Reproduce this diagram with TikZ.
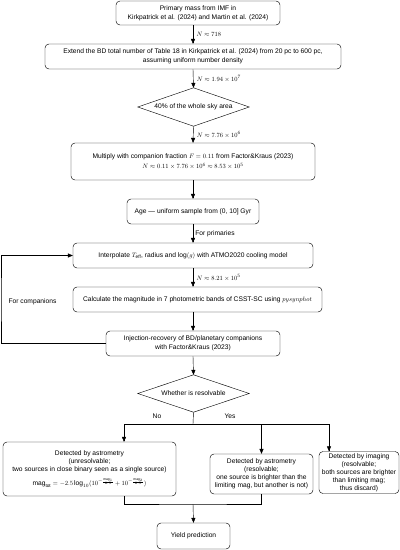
\documentclass[tikz,border=0pt]{standalone}
\usepackage{fontspec}
\setmainfont{Liberation Sans}
\usepackage{amsmath}
\usetikzlibrary{arrows}

\tikzset{
  box/.style={draw, rounded corners=0.2cm, align=center, inner sep=1pt, font=\fontsize{9.5}{13}\selectfont},
  tbox/.style={box, font=\fontsize{9.5}{11.4}\selectfont},
  diam/.style={inner sep=0pt, font=\fontsize{9.5}{12}\selectfont},
  arr/.style={-triangle 45},
  lab/.style={right, inner sep=3pt, font=\fontsize{9.5}{12}\selectfont},
  nlab/.style={lab, inner sep=5pt}
}

\begin{document}
\begin{tikzpicture}[x=0.05cm,y=-0.05cm, line width=0.6pt]
\useasboundingbox (0,0) rectangle (400,550);

\node[box, minimum width=8.2cm, minimum height=1.2cm] (prim) at (198,13) {Primary mass from IMF in\\Kirkpatrick et al. (2024) and Martin et al. (2024)};
\node[box, minimum width=14.8cm, minimum height=1.25cm] (ext) at (193,56.5) {Extend the BD total number of Table 18 in Kirkpatrick et al. (2024) from 20 pc to 600 pc,\\assuming uniform number density};
\node[diam, minimum width=5.55cm, minimum height=1.9cm] (sky) at (193.5,107) {40\% of the whole sky area};
\draw (sky.north) -- (sky.east) -- (sky.south) -- (sky.west) -- cycle;
\node[box, minimum width=12.2cm, minimum height=1.85cm] (frac) at (193,161.5) {Multiply with companion fraction $F=0.11$ from Factor\&Kraus (2023)\\[2pt]$N\approx 0.11\times 7.76\times 10^6\approx 8.53\times 10^5$};
\node[box, minimum width=6.6cm, minimum height=1.25cm] (age) at (193,211.5) {Age --- uniform sample from (0, 10] Gyr};
\node[box, minimum width=12cm, minimum height=1.25cm] (interp) at (193,255.5) {Interpolate $T_{\rm eff}$, radius and $\log(g)$ with ATMO2020 cooling model};
\node[box, minimum width=12.45cm, minimum height=1.25cm] (mag) at (197.5,299.5) {Calculate the magnitude in 7 photometric bands of CSST-SC using $pysynphot$};
\node[box, minimum width=8.7cm, minimum height=1.25cm] (inj) at (193,343.5) {Injection-recovery of BD/planetary companions\\with Factor\&Kraus (2023)};
\node[diam, minimum width=5.55cm, minimum height=1.85cm] (res) at (193.5,393.5) {Whether is resolvable};
\draw (res.north) -- (res.east) -- (res.south) -- (res.west) -- cycle;

\node[tbox, minimum width=8.65cm, minimum height=2.7cm] (unres) at (89.5,469) {Detected by astrometry\\(unresolvable;\\two sources in close binary seen as a single source)\\[7pt]$\mathrm{mag}_{\rm tot}=-2.5\log_{10}(10^{-\frac{\mathrm{mag}_1}{2.5}}+10^{-\frac{\mathrm{mag}_2}{2.5}})$};
\node[tbox, minimum width=5.15cm, minimum height=2cm] (astro) at (261.5,474) {Detected by astrometry\\(resolvable;\\one source is brighter than the\\limiting mag, but another is not)};
\node[tbox, minimum width=4cm, minimum height=2.1cm] (img) at (359,472.5) {Detected by imaging\\(resolvable;\\both sources are brighter\\than limiting mag;\\thus discard)};
\node[box, minimum width=3.65cm, minimum height=1.3cm] (yield) at (193.5,536) {Yield prediction};

\coordinate (split) at (193,424);
\coordinate (merge) at (193,504);
\coordinate (back) at (1,300);

\draw[arr] (prim.south -| ext) -- (ext.north) node[nlab, midway] {$N\approx 718$};
\draw[arr] (ext.south) -- (sky.north) node[nlab, midway] {$N\approx 1.94\times 10^7$};
\draw[arr] (sky.south) -- (frac.north) node[nlab, midway] {$N\approx 7.76\times 10^6$};
\draw[arr] (frac.south) -- (age.north);
\draw[arr] (age.south) -- (interp.north) node[lab, midway] {For primaries};
\draw[arr] (interp.south) -- (interp.south |- mag.north) node[nlab, midway] {$N\approx 8.21\times 10^5$};
\draw[arr] (interp.south |- mag.south) -- (inj.north);
\draw[arr] (inj.south) -- (res.north);
\draw[arr] (inj.west) -| (back) |- (interp.west);
\node[font=\fontsize{9.5}{12}\selectfont] (comp) at (32.5,302) {For companions};

\draw (res.south) -- (split);
\draw[arr] (split) -| ([xshift=1.725cm]unres.north);
\draw[arr] (split) -| (astro.north);
\draw[arr] (split) -| ([xshift=-1.5cm]img.north);
\node[font=\fontsize{9.5}{12}\selectfont] (no) at (157,416) {No};
\node[font=\fontsize{9.5}{12}\selectfont] (yes) at (230,416) {Yes};

\draw ([xshift=1.725cm]unres.south) |- (merge) -| (astro.south);
\draw[arr] (merge) -- (yield.north);
\end{tikzpicture}
\end{document}
